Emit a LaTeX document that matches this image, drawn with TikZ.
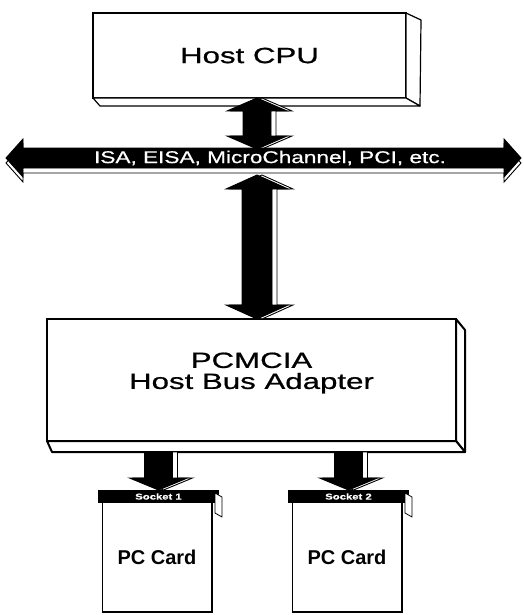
\documentclass[tikz,border=0pt]{standalone}
\usepackage{fontspec}
\setmainfont{Liberation Sans}
\newfontfamily\boxfont[FakeStretch=1.42,FakeBold=0.8]{Liberation Sans}
\newfontfamily\busfont[FakeStretch=1.33,FakeBold=0.6]{Liberation Sans}
\usetikzlibrary{calc, positioning}

\tikzset{
  boxfront/.style={rectangle, draw=black, fill=white, line width=1.2pt,
    outer sep=0pt, inner sep=0pt, align=center,
    font=\boxfont\fontsize{22}{21}\selectfont},
  boxtext/.style={inner sep=0pt, align=center,
    font=\boxfont\fontsize{22}{21}\selectfont},
  faceline/.style={draw=black, fill=white, line width=1.2pt, line join=round},
  buslabel/.style={text=white, inner sep=0pt,
    font=\busfont\fontsize{17}{18}\selectfont},
  sockband/.style={rectangle, fill=black, text=white, outer sep=0pt,
    minimum width=121pt, minimum height=13pt, inner sep=0pt,
    font=\busfont\bfseries\fontsize{8.5}{9}\selectfont},
  cardbody/.style={rectangle, fill=white, outer sep=0pt, inner sep=0pt,
    minimum width=110pt, minimum height=109pt,
    font=\bfseries\fontsize{20}{22}\selectfont},
  fatline/.style={draw=black, line width=0.9pt, line join=miter}
}

% fat vertical arrow, heads at both ends: top, bottom, head half width, shaft half width, head length
\newcommand\dblvarrow[5]{%
  \foreach \dx/\fl in {5/white,0/black}{
    \filldraw[fatline, fill=\fl]
      let \p1=($(#1)+(\dx,0)$), \p2=($(#2)+(\dx,0)$) in
      (\x1,\y1) -- (\x1+#3,\y1-#5) -- (\x1+#4,\y1-#5) -- (\x1+#4,\y2+#5)
      -- (\x1+#3,\y2+#5) -- (\x1,\y2) -- (\x1-#3,\y2+#5) -- (\x1-#4,\y2+#5)
      -- (\x1-#4,\y1-#5) -- (\x1-#3,\y1-#5) -- cycle;
  }
}
% fat arrow pointing down: top, tip, head half width, shaft half width, head length
\newcommand\sockarrow[5]{%
  \foreach \dx/\fl in {5/white,0/black}{
    \filldraw[fatline, fill=\fl]
      let \p1=($(#1)+(\dx,0)$), \p2=($(#2)+(\dx,0)$) in
      (\x1-#4,\y1) -- (\x1+#4,\y1) -- (\x1+#4,\y2+#5) -- (\x1+#3,\y2+#5)
      -- (\x1,\y2) -- (\x1-#3,\y2+#5) -- (\x1-#4,\y2+#5) -- cycle;
  }
}
% fat horizontal arrow, heads at both ends: left, right, head half height, shaft half height, head length
\newcommand\dblharrow[5]{%
  \foreach \dy/\fl in {5/white,0/black}{
    \filldraw[fatline, fill=\fl]
      let \p1=($(#1)+(0,\dy)$), \p2=($(#2)+(0,\dy)$) in
      (\x1,\y1) -- (\x1+#5,\y1+#3) -- (\x1+#5,\y1+#4) -- (\x2-#5,\y1+#4)
      -- (\x2-#5,\y1+#3) -- (\x2,\y1) -- (\x2-#5,\y1-#3) -- (\x2-#5,\y1-#4)
      -- (\x1+#5,\y1-#4) -- (\x1+#5,\y1-#3) -- cycle;
  }
}

\begin{document}
\begin{tikzpicture}[x=1pt, y=-1pt]
  \useasboundingbox (0,0) rectangle (523,615);

  % Host CPU box
  \node[boxfront, minimum width=313pt, minimum height=85pt] (cpu) at (249.5,55.5) {Host CPU};
  \draw[faceline] (cpu.north east) -- ++(15,7) -- ($(cpu.south east)+(14,8)$) -- (cpu.south east) -- cycle;
  \draw[faceline] (cpu.south west) -- (cpu.south east) -- ++(14,8) -- ($(cpu.south west)+(7,8)$) -- cycle;

  % Host bus adapter box
  \node[boxfront, line width=2pt, minimum width=409pt, minimum height=122pt] (hba) at (251.5,380) {};
  \node[boxtext] (hbatext) at ($(hba.center)+(0,-7)$) {PCMCIA\\Host Bus Adapter};
  \draw[faceline, line width=2pt] (hba.north east) -- ++(9,11) -- ($(hba.south east)+(9,11)$) -- (hba.south east) -- cycle;
  \draw[faceline, line width=2pt] (hba.south west) -- (hba.south east) -- ++(9,11) -- ($(hba.south west)+(5,11)$) -- cycle;

  % sockets
  \node[sockband] (sock1) at (158.5,496.5) {Socket 1};
  \node[sockband] (sock2) at (348.5,496.5) {Socket 2};
  \foreach \s in {sock1,sock2}{
    \draw[faceline, line width=0.8pt] ($(\s.north east)+(-4,3)$) -- ++(7,4) -- ($(\s.south east)+(3,14)$) -- ++(-7,-4) -- cycle;
  }

  % PC cards
  \node[cardbody, anchor=north west] (card1) at ($(sock1.south west)+(4,0)$) {PC Card};
  \node[cardbody, anchor=north west] (card2) at ($(sock2.south west)+(4,0)$) {PC Card};
  \foreach \c in {card1,card2}{
    \draw[line width=0.6pt] (\c.north west) -- (\c.south west);
    \draw[line width=2.6pt] (\c.north east) -- (\c.south east) -- (\c.south west);
  }

  % bus points
  \coordinate (spine) at (257,0);
  \coordinate (busL) at (6,158);
  \coordinate (busR) at (521,158);
  \coordinate (busN) at ($(spine |- busL)+(0,-9)$);
  \coordinate (busS) at ($(spine |- busL)+(0,17)$);
  \coordinate (s1top) at ($(sock1.north |- hba.south)+(0,11)$);
  \coordinate (s2top) at ($(sock2.north |- hba.south)+(0,11)$);

  % fat connectors
  \dblvarrow{spine |- cpu.south}{busN}{30pt}{14pt}{13pt}
  \dblvarrow{busS}{spine |- hba.north}{31pt}{15pt}{14pt}
  \sockarrow{s1top}{sock1.north}{29pt}{14pt}{12pt}
  \sockarrow{s2top}{sock2.north}{29pt}{14pt}{12pt}

  % system bus
  \dblharrow{busL}{busR}{19pt}{10pt}{17pt}
  \node[buslabel] (bus) at (270,158) {ISA, EISA, MicroChannel, PCI, etc.};
\end{tikzpicture}
\end{document}
